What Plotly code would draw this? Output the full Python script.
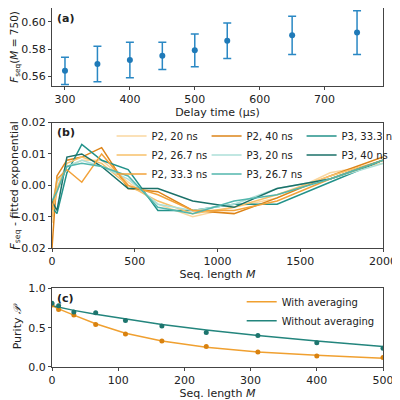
import plotly.graph_objects as go

# Panel (a)
delay = [300, 350, 400, 450, 500, 550, 650, 750]
fseq = [0.564, 0.569, 0.572, 0.575, 0.579, 0.586, 0.590, 0.592]
fseq_err = [0.010, 0.013, 0.013, 0.010, 0.012, 0.013, 0.014, 0.016]

# Panel (b)
seq_len = [0, 30, 90, 180, 300, 460, 640, 850, 1100, 1360, 1680, 2000]
resid = {
    "P2, 20 ns": [-0.012, -0.002, 0.006, 0.008, 0.008, 0.001, -0.006, -0.010, -0.007, -0.004, 0.004, 0.007],
    "P2, 40 ns": [-0.020, 0.003, 0.008, 0.009, 0.012, -0.001, -0.002, -0.008, -0.009, -0.004, 0.003, 0.009],
    "P3, 33.3 ns": [-0.007, -0.009, 0.004, 0.013, 0.008, 0.005, -0.008, -0.008, -0.006, -0.006, 0.001, 0.008],
    "P2, 26.7 ns": [-0.010, -0.001, 0.007, 0.009, 0.007, 0.000, -0.005, -0.009, -0.007, -0.003, 0.003, 0.008],
    "P3, 20 ns": [-0.006, 0.001, 0.006, 0.008, 0.006, 0.002, -0.006, -0.008, -0.006, -0.001, 0.002, 0.007],
    "P3, 40 ns": [-0.005, -0.008, 0.009, 0.010, 0.006, -0.001, -0.001, -0.005, -0.007, -0.001, 0.002, 0.008],
    "P2, 33.3 ns": [-0.008, 0.002, 0.005, 0.001, 0.010, 0.000, -0.003, -0.008, -0.008, -0.005, 0.002, 0.008],
    "P3, 26.7 ns": [-0.005, -0.002, 0.006, 0.007, 0.006, 0.003, -0.007, -0.009, -0.005, -0.003, 0.002, 0.008],
}
colors_b = {
    "P2, 20 ns": "#fad7a0", "P2, 26.7 ns": "#f7c06a", "P2, 33.3 ns": "#f2a23a", "P2, 40 ns": "#dd8418",
    "P3, 20 ns": "#acdfd8", "P3, 26.7 ns": "#52b6ad", "P3, 33.3 ns": "#23928a", "P3, 40 ns": "#1b7169",
}

# Panel (c)
m_c = [0, 10, 33, 66, 111, 166, 233, 311, 400, 500]
pur_avg = [0.79, 0.73, 0.66, 0.54, 0.42, 0.33, 0.26, 0.19, 0.14, 0.12]
pur_noavg = [0.81, 0.78, 0.70, 0.69, 0.59, 0.52, 0.44, 0.40, 0.31, 0.24]
fit_avg = [0.78, 0.74, 0.66, 0.55, 0.43, 0.33, 0.25, 0.19, 0.15, 0.11]
fit_noavg = [0.78, 0.76, 0.72, 0.67, 0.61, 0.54, 0.47, 0.40, 0.33, 0.26]

fig = go.Figure()
fig.add_trace(go.Scatter(x=delay, y=fseq, mode="markers", marker=dict(color="#1f7ab8", size=6),
                         error_y=dict(array=fseq_err, color="#2a88c4", thickness=1.5, width=4),
                         showlegend=False, xaxis="x", yaxis="y"))
for name, vals in resid.items():
    fig.add_trace(go.Scatter(x=seq_len, y=vals, mode="lines", name=name,
                             line=dict(color=colors_b[name], width=1.5),
                             xaxis="x2", yaxis="y2", legend="legend"))
OR, TE = "#f0a030", "#23857d"
fig.add_trace(go.Scatter(x=m_c, y=fit_avg, mode="lines", name="With averaging", line=dict(color=OR, width=1.5),
                         xaxis="x3", yaxis="y3", legend="legend2"))
fig.add_trace(go.Scatter(x=m_c, y=fit_noavg, mode="lines", name="Without averaging", line=dict(color=TE, width=1.5),
                         xaxis="x3", yaxis="y3", legend="legend2"))
fig.add_trace(go.Scatter(x=m_c, y=pur_avg, mode="markers", marker=dict(color="#d9820f", size=5),
                         showlegend=False, xaxis="x3", yaxis="y3"))
fig.add_trace(go.Scatter(x=m_c, y=pur_noavg, mode="markers", marker=dict(color="#1d756e", size=5),
                         showlegend=False, xaxis="x3", yaxis="y3"))

ax = dict(showline=True, mirror=True, linecolor="#444", linewidth=1, ticks="outside", ticklen=3,
          tickcolor="#444", showgrid=False, zeroline=False, tickfont=dict(size=11, color="#222"),
          automargin=False)
tf = dict(size=11, color="#222")
fig.update_layout(
    width=400, height=400, margin=dict(l=44, r=25, t=0, b=41),
    paper_bgcolor="white", plot_bgcolor="white",
    font=dict(family="DejaVu Sans", size=11, color="#222"),
    xaxis=dict(ax, domain=[0, 1], range=[280, 790], tickvals=[300, 400, 500, 600, 700], anchor="y",
               title=dict(text="Delay time (μs)", font=tf, standoff=0)),
    yaxis=dict(ax, domain=[0.783, 1], range=[0.553, 0.61], tickvals=[0.56, 0.58, 0.60],
               tickformat=".2f", anchor="x",
               title=dict(text="<i>F</i><sub>seq</sub>(<i>M</i> = 750)", font=dict(size=10.5, color="#222"), standoff=1)),
    xaxis2=dict(ax, domain=[0, 1], range=[0, 2000], tickvals=[0, 500, 1000, 1500, 2000], anchor="y2",
                title=dict(text="Seq. length <i>M</i>", font=tf, standoff=0)),
    yaxis2=dict(ax, domain=[0.331, 0.681], range=[-0.02, 0.02], tickvals=[-0.02, -0.01, 0, 0.01, 0.02],
                tickformat=".2f", anchor="x2",
                title=dict(text="<i>F</i><sub>seq</sub> - fitted exponential", font=tf, standoff=2)),
    xaxis3=dict(ax, domain=[0, 1], range=[0, 500], tickvals=[0, 100, 200, 300, 400, 500], anchor="y3",
                title=dict(text="Seq. length <i>M</i>", font=tf, standoff=0)),
    yaxis3=dict(ax, domain=[0, 0.219], range=[0, 1], tickvals=[0, 0.5, 1.0], tickformat=".1f", anchor="x3",
                title=dict(text="Purity <i>𝒫</i>", font=tf, standoff=4)),
    legend=dict(x=0.18, y=0.684, xanchor="left", yanchor="top", orientation="h", entrywidth=50,
                font=dict(size=10), bgcolor="rgba(0,0,0,0)", tracegroupgap=0, itemwidth=30),
    legend2=dict(x=0.99, y=0.222, xanchor="right", yanchor="top", font=dict(size=10),
                 bgcolor="rgba(0,0,0,0)"),
    annotations=[
        dict(text="<b>(a)</b>", x=0.01, y=0.995, xref="paper", yref="paper", xanchor="left", yanchor="top",
             showarrow=False, font=dict(size=11)),
        dict(text="<b>(b)</b>", x=0.01, y=0.676, xref="paper", yref="paper", xanchor="left", yanchor="top",
             showarrow=False, font=dict(size=11)),
        dict(text="<b>(c)</b>", x=0.01, y=0.214, xref="paper", yref="paper", xanchor="left", yanchor="top",
             showarrow=False, font=dict(size=11)),
    ],
)
fig.write_html("out.html")
